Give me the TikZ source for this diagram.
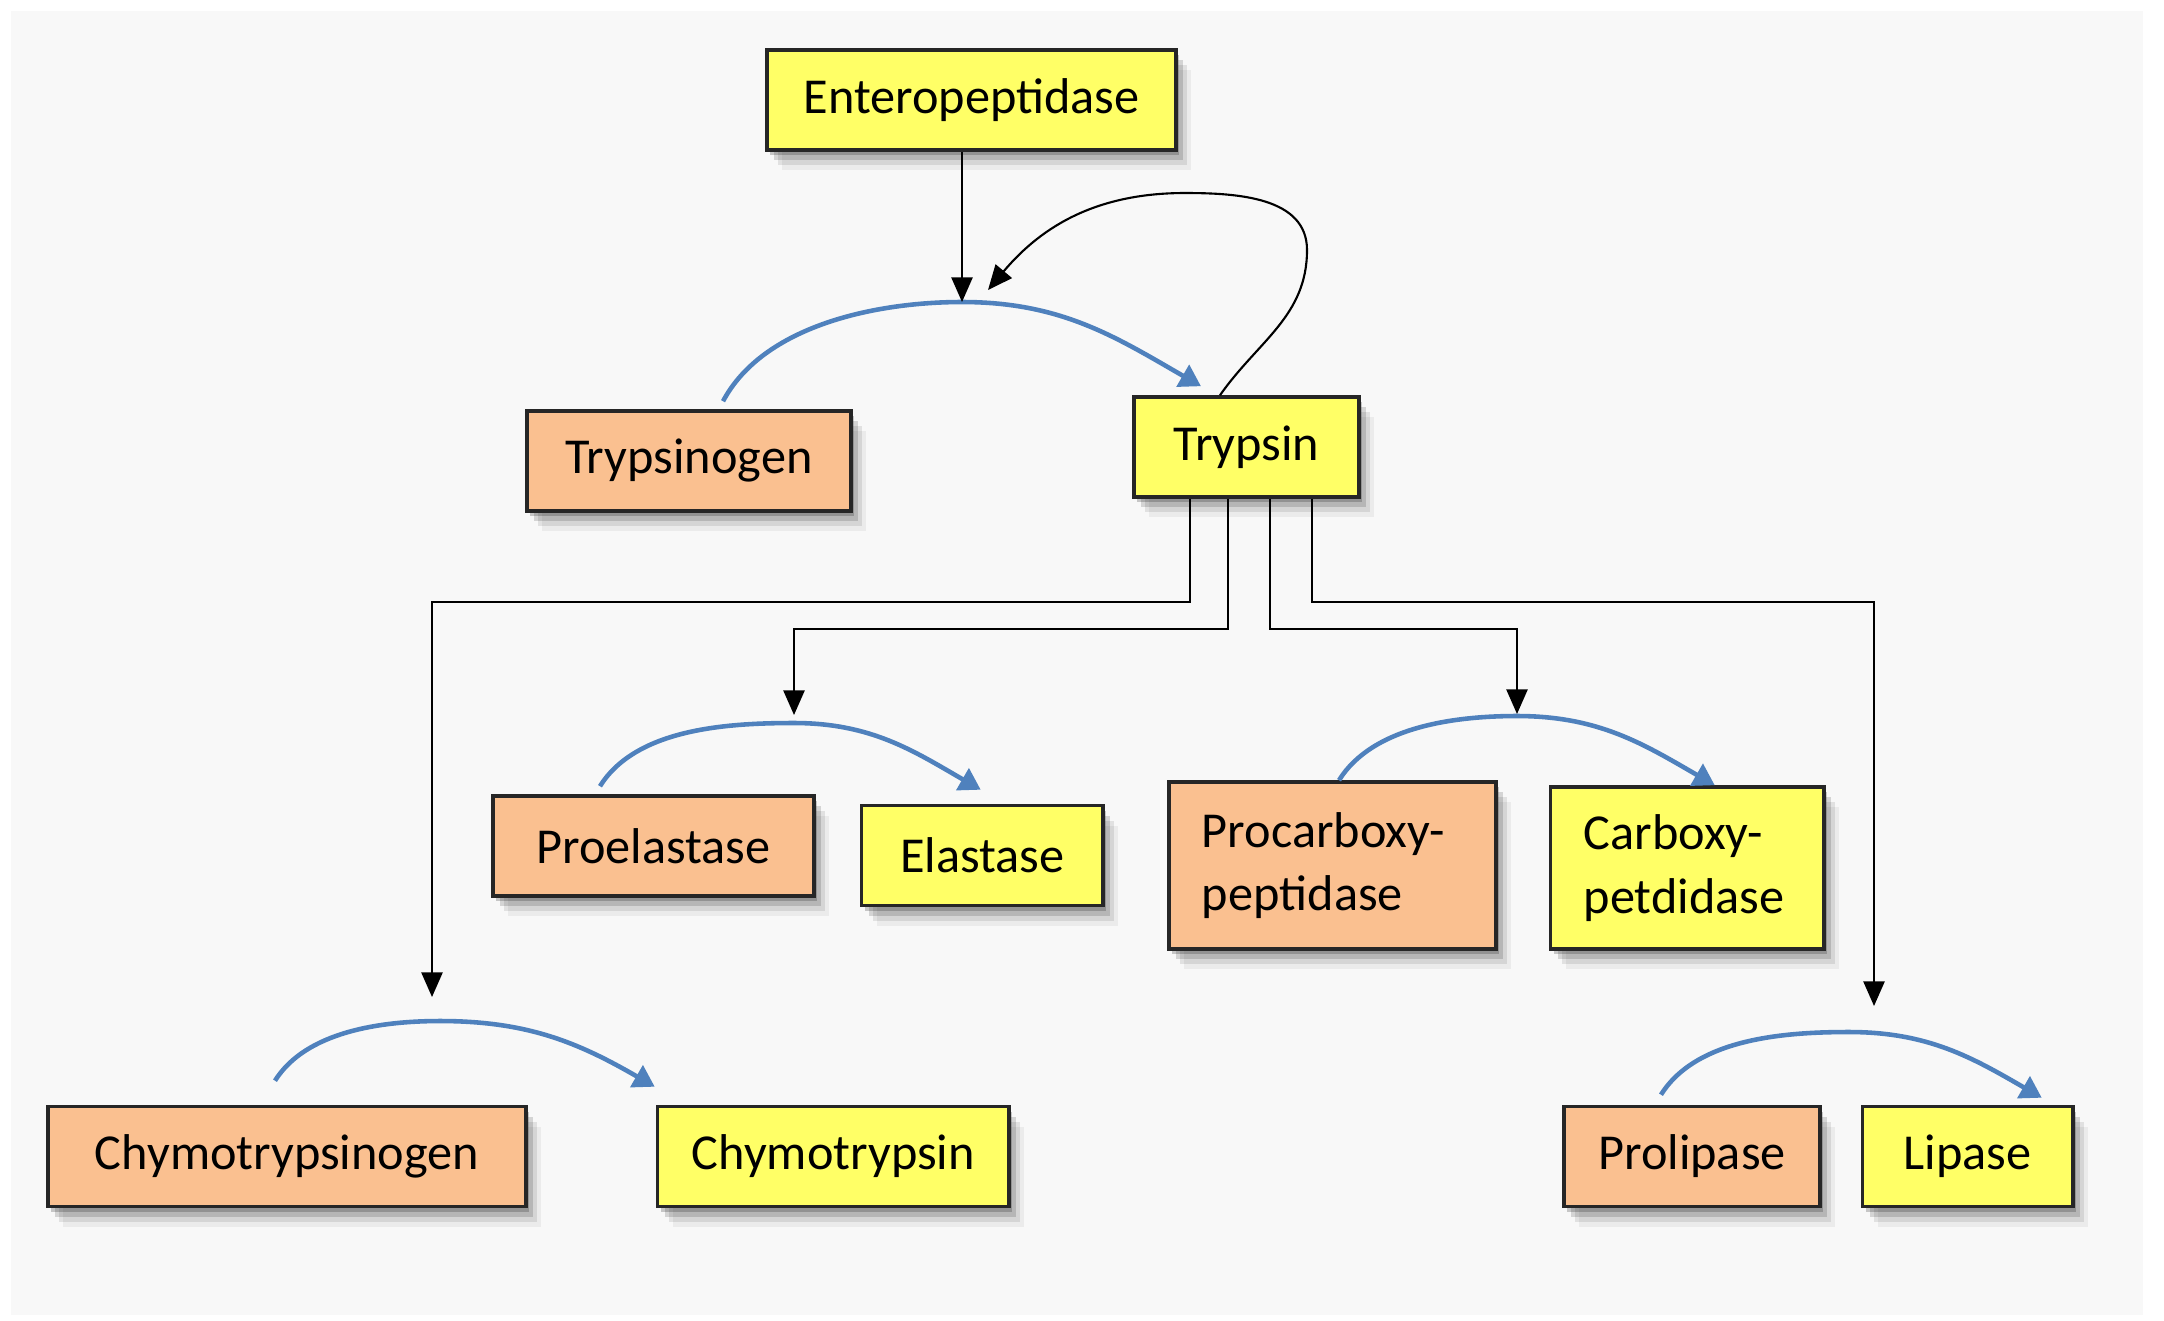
\documentclass[tikz,border=0pt]{standalone}
\usepackage{fontspec}
\setmainfont{Carlito}
\usepackage{tikz}
\usetikzlibrary{arrows.meta,positioning,shadows}
\definecolor{enzyellow}{RGB}{255,255,102}
\definecolor{zympeach}{RGB}{250,192,144}
\definecolor{arcblue}{RGB}{79,129,189}
\definecolor{panelgray}{RGB}{248,248,248}

\begin{document}
\begin{tikzpicture}[
  x=0.01cm, y=0.01cm,
  box/.style={rectangle,draw=black!85,line width=1pt,minimum height=1cm,
    inner sep=0pt,align=center,font=\fontsize{14.3}{18}\selectfont,
    drop shadow={shadow xshift=0.03cm,shadow yshift=-0.05cm,opacity=0.2,fill=black},
    drop shadow={shadow xshift=0.07cm,shadow yshift=-0.1cm,opacity=0.14,fill=black},
    drop shadow={shadow xshift=0.11cm,shadow yshift=-0.15cm,opacity=0.09,fill=black},
    drop shadow={shadow xshift=0.15cm,shadow yshift=-0.2cm,opacity=0.05,fill=black}},
  active/.style={box,fill=enzyellow},
  zymogen/.style={box,fill=zympeach},
  conv/.style={-{Triangle[length=6pt,width=7pt]},line width=1.3pt,color=arcblue},
  act/.style={-{Triangle[length=7pt,width=6pt]},line width=0.6pt,color=black},
]
\useasboundingbox (0,0) rectangle (2164,-1320);
\fill[white] (0,0) rectangle (2164,-1320);
\fill[panelgray] (11,-11) rectangle (2143,-1315);

% enzymes and their precursors
\node[active,minimum width=4.09cm] (ent) at (971.5,-100) {Enteropeptidase};
\node[zymogen,minimum width=3.24cm] (tgen) at (689,-461) {Trypsinogen};
\node[active,minimum width=2.25cm] (tryp) at (1246.5,-447) {Trypsin};
\node[zymogen,minimum width=3.21cm] (proela) at (653.5,-846) {Proelastase};
\node[active,minimum width=2.41cm,right=0.44cm of proela,yshift=-0.095cm] (ela) {Elastase};
\node[zymogen,minimum width=3.27cm,minimum height=1.67cm,align=left,text width=2.61cm] (procpd) at (1332.5,-865.5) {Procarboxy-\\peptidase};
\node[active,minimum width=2.73cm,minimum height=1.62cm,align=left,text width=2.07cm,right=0.51cm of procpd,yshift=-0.025cm] (cpd) {Carboxy-\\petdidase};
\node[zymogen,minimum width=4.78cm] (chgen) at (287,-1156.5) {Chymotrypsinogen};
\node[active,minimum width=3.51cm,right=1.28cm of chgen] (chym) {Chymotrypsin};
\node[zymogen,minimum width=2.56cm] (prolip) at (1692,-1156.5) {Prolipase};
\node[active,minimum width=2.10cm,right=0.39cm of prolip] (lip) {Lipase};

% tops of the conversion arcs
\coordinate (aTry) at (962,-302);
\coordinate (aEla) at (794,-723);
\coordinate (aCpd) at (1517,-716);
\coordinate (aChy) at (440,-1021);
\coordinate (aLip) at (1849,-1032);
% arrow tips
\coordinate (fb) at (988,-290);
\coordinate (tChy) at (432,-997);
\coordinate (tEla) at (794,-715);
\coordinate (tCpd) at (1517,-714);
\coordinate (tLip) at (1874,-1006);

% conversions
\draw[conv] ([shift={(0.34cm,0.08cm)}]tgen.north) to[out=62,in=180,looseness=0.85] (aTry) to[out=0,in=150] ([shift={(-0.455cm,0.09cm)}]tryp.north);
\draw[conv] ([shift={(-0.535cm,0.08cm)}]proela.north) to[out=58,in=180,looseness=0.85] (aEla) to[out=0,in=150] ([shift={(-0.015cm,0.14cm)}]ela.north);
\draw[conv] ([shift={(0.065cm,0cm)}]procpd.north) to[out=58,in=180,looseness=0.85] (aCpd) to[out=0,in=150] ([shift={(0.275cm,0cm)}]cpd.north);
\draw[conv] ([shift={(-0.12cm,0.24cm)}]chgen.north) to[out=58,in=180,looseness=0.85] (aChy) to[out=0,in=150] ([shift={(-1.785cm,0.18cm)}]chym.north);
\draw[conv] ([shift={(-0.31cm,0.1cm)}]prolip.north) to[out=58,in=180,looseness=0.85] (aLip) to[out=0,in=150] ([shift={(0.74cm,0.07cm)}]lip.north);

% activation
\draw[act] (ent.south -| aTry) -- (aTry);
\draw[act] ([xshift=-0.265cm]tryp.north) to[out=55,in=-90] (1307,-250) to[out=90,in=0] (1185,-193) to[out=180,in=50] (fb);
\draw[act] ([xshift=-0.565cm]tryp.south) -- ++(0,-103) -| (tChy);
\draw[act] ([xshift=-0.185cm]tryp.south) -- ++(0,-130) -| (tEla);
\draw[act] ([xshift=0.235cm]tryp.south) -- ++(0,-130) -| (tCpd);
\draw[act] ([xshift=0.655cm]tryp.south) -- ++(0,-103) -| (tLip);
\end{tikzpicture}
\end{document}
